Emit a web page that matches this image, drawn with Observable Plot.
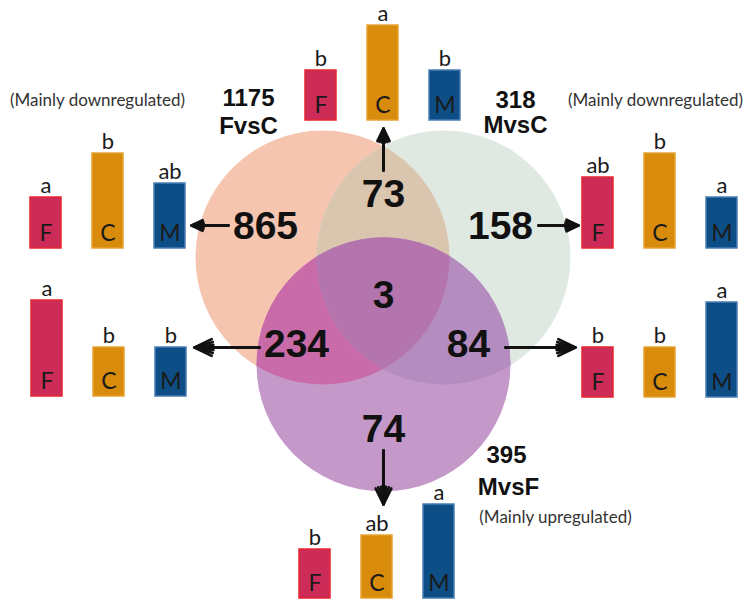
<!DOCTYPE html>
<html>
<head>
<meta charset="utf-8">
<script src="https://cdn.jsdelivr.net/npm/d3@7"></script>
<script src="https://cdn.jsdelivr.net/npm/@observablehq/plot@0.6"></script>
<style>
  body { margin: 0; background: #fff; }
  #chart { position: relative; width: 746px; height: 600px; overflow: hidden; background: #fff; }
  #chart svg { position: absolute; }
</style>
</head>
<body>
<div id="chart"></div>
<script>
// ---- Data -------------------------------------------------------------
// Differentially expressed genes in each pairwise comparison
const comparisons = ["FvsC", "MvsC", "MvsF"];
const comparisonTotals = [1175, 318, 395];
const comparisonNotes = ["(Mainly downregulated)", "(Mainly downregulated)", "(Mainly upregulated)"];

// Genes in each Venn region
const regions = ["FvsC only", "FvsC & MvsC", "MvsC only", "all three", "FvsC & MvsF", "MvsC & MvsF", "MvsF only"];
const regionCounts = [865, 73, 158, 3, 234, 84, 74];

// Relative expression of each region's genes in the F, C and M groups,
// with significance letters
const groups = ["F", "C", "M"];
const level865 = [51, 95, 65];  const sig865 = ["a", "b", "ab"];
const level73  = [50, 95, 50];  const sig73  = ["b", "a", "b"];
const level158 = [71, 95, 51];  const sig158 = ["ab", "b", "a"];
const level234 = [96, 49, 49];  const sig234 = ["a", "b", "b"];
const level84  = [50, 50, 95];  const sig84  = ["b", "b", "a"];
const level74  = [49, 63, 94];  const sig74  = ["b", "ab", "a"];

// ---- Layout & style ---------------------------------------------------
const W = 746, H = 600;
const R = 127;                                   // circle radius (px)
const circleCentres = [[322, 257], [443, 257], [383, 364]];
const circleFill = ["#f6c5b0", "#dfe9e2", "#c498c8"];
const overlapFill = { fm: "#dac5ae", ff: "#c96ba9", mf: "#b48cc0", all: "#b475ae" };

const regionAnchors = [[265, 226], [383, 194], [500, 226], [383, 295], [296, 344], [468, 344], [383, 429]];
const totalAnchors = [[248, 98], [515, 100], [506, 455]];
const nameAnchors  = [[248, 126], [515, 125], [508, 487]];
const noteAnchors  = [[97, 100], [655, 100], [555, 517]];

// arrows from a region's count to its bar panel: [x1, y1, x2, y2]
const arrowPaths = {
  865: [228, 225, 191, 225],
  73:  [383, 170, 383, 128],
  158: [538, 225, 578, 225],
  234: [259, 347, 194, 347],
  84:  [505, 347, 575, 347],
  74:  [383, 450, 383, 504]
};

// bar panels: left edge of first bar, baseline
const panels = [
  { levels: level865, sigs: sig865, left: 29,  base: 248 },
  { levels: level73,  sigs: sig73,  left: 304, base: 120 },
  { levels: level158, sigs: sig158, left: 581, base: 248 },
  { levels: level234, sigs: sig234, left: 30,  base: 396 },
  { levels: level84,  sigs: sig84,  left: 581, base: 397 },
  { levels: level74,  sigs: sig74,  left: 298, base: 598 }
];
const barFill   = ["#cd2c58", "#d98b0b", "#0e4e86"];
const barStroke = ["#e3262f", "#e6a232", "#4a7db3"];

const boldFont = "'Liberation Sans', Arial, sans-serif";
const lightFont = "Lato, 'Open Sans', sans-serif";

// ---- Venn diagram -----------------------------------------------------
const circles = circleCentres.map(([cx, cy], i) => ({ cx, cy, name: comparisons[i] }));
const regionTable = regions.map((name, i) => ({ name, count: regionCounts[i], x: regionAnchors[i][0], y: regionAnchors[i][1] }));
const setTable = comparisons.map((name, i) => ({
  name, total: comparisonTotals[i], note: comparisonNotes[i],
  tx: totalAnchors[i][0], ty: totalAnchors[i][1],
  nx: nameAnchors[i][0], ny: nameAnchors[i][1],
  ox: noteAnchors[i][0], oy: noteAnchors[i][1]
}));
const arrowTable = Object.entries(arrowPaths).map(([k, p]) => ({ region: k, x1: p[0], y1: p[1], x2: p[2], y2: p[3] }));

const [cF, cM, cMF] = circles.map(c => [c]);

// a fan of heads sharing one tip gives a solid arrowhead
const arrowHead = [52, 34, 16].map(angle =>
  Plot.arrow(arrowTable, { x1: "x1", y1: "y1", x2: "x2", y2: "y2", bend: 0, stroke: "#111", strokeWidth: 2.6, headLength: 11, headAngle: angle })
);

const venn = Plot.plot({
  width: W, height: H,
  margin: 0,
  style: { background: "transparent", overflow: "visible" },
  x: { domain: [0, W], range: [0, W], axis: null },
  y: { domain: [0, H], range: [0, H], axis: null },
  marks: [
    Plot.dot(cF,  { x: "cx", y: "cy", r: R, fill: circleFill[0] }),
    Plot.dot(cM,  { x: "cx", y: "cy", r: R, fill: circleFill[1] }),
    Plot.dot(cM,  { x: "cx", y: "cy", r: R, fill: overlapFill.fm }),   // FvsC ∩ MvsC
    Plot.dot(cMF, { x: "cx", y: "cy", r: R, fill: circleFill[2] }),
    Plot.dot(cMF, { x: "cx", y: "cy", r: R, fill: overlapFill.ff }),   // FvsC ∩ MvsF
    Plot.dot(cMF, { x: "cx", y: "cy", r: R, fill: overlapFill.mf }),   // MvsC ∩ MvsF
    Plot.dot(cMF, { x: "cx", y: "cy", r: R, fill: overlapFill.all }),  // all three
    ...arrowHead,
    Plot.text(regionTable, { x: "x", y: "y", text: d => String(d.count), fontSize: 39, fontWeight: "bold", fontFamily: boldFont, fill: "#111" }),
    Plot.text(setTable, { x: "tx", y: "ty", text: d => String(d.total), fontSize: 24, fontWeight: "bold", fontFamily: boldFont, fill: "#111" }),
    Plot.text(setTable, { x: "nx", y: "ny", text: "name", fontSize: 24, fontWeight: "bold", fontFamily: boldFont, fill: "#111" }),
    Plot.text(setTable, { x: "ox", y: "oy", text: "note", fontSize: 17, fontFamily: lightFont, fill: "#333" })
  ]
});

// restrict the overlap layers to the circle they intersect
{
  const sx = venn.scale("x"), sy = venn.scale("y");
  const defs = d3.select(venn).insert("defs", ":first-child");
  const clipIds = ["clip-fvsc", "clip-mvsc"];
  clipIds.forEach((id, i) => {
    defs.append("clipPath").attr("id", id)
      .append("circle")
      .attr("cx", sx.apply(circles[i].cx))
      .attr("cy", sy.apply(circles[i].cy))
      .attr("r", R);
  });
  const layers = venn.querySelectorAll('g[aria-label="dot"]');
  layers[2].setAttribute("clip-path", "url(#clip-fvsc)");
  layers[4].setAttribute("clip-path", "url(#clip-fvsc)");
  layers[5].setAttribute("clip-path", "url(#clip-mvsc)");
  layers[6].setAttribute("clip-path", "url(#clip-fvsc)");
  layers[6].querySelectorAll("circle").forEach(c => c.setAttribute("clip-path", "url(#clip-mvsc)"));
}

const chart = document.getElementById("chart");
venn.style.left = "0px";
venn.style.top = "0px";
chart.appendChild(venn);

// ---- Bar panels -------------------------------------------------------
const mL = 10, mR = 10, mT = 30, mB = 4, plotH = 100, span = 158;
panels.forEach(p => {
  const rows = groups.map((g, i) => ({ group: g, level: p.levels[i], sig: p.sigs[i] }));
  const svg = Plot.plot({
    width: span + mL + mR, height: plotH + mT + mB,
    marginLeft: mL, marginRight: mR, marginTop: mT, marginBottom: mB,
    style: { background: "transparent", overflow: "visible" },
    x: { domain: groups, paddingInner: 0.492, paddingOuter: 0, axis: null },
    y: { domain: [0, 100], axis: null },
    marks: [
      ...groups.map((g, i) => Plot.barY(rows.filter(r => r.group === g), {
        x: "group", y: "level", fill: barFill[i], stroke: barStroke[i], strokeWidth: 1.5
      })),
      Plot.text(rows, { x: "group", y: 0, text: "group", dy: -15, fontSize: 23, fontFamily: lightFont, fill: "#1a1a1a" }),
      Plot.text(rows, { x: "group", y: "level", text: "sig", dy: -12, fontSize: 22, fontFamily: lightFont, fill: "#1a1a1a" })
    ]
  });
  svg.style.left = (p.left - mL) + "px";
  svg.style.top = (p.base - (plotH + mT)) + "px";
  chart.appendChild(svg);
});
</script>
</body>
</html>
